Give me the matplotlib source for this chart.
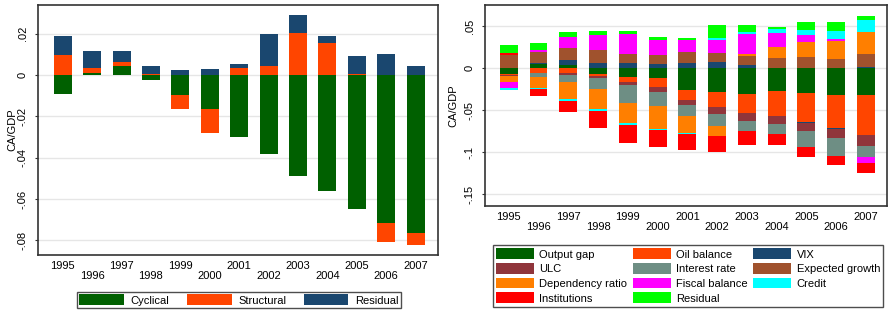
import numpy as np
import matplotlib
matplotlib.use("Agg")
import matplotlib.pyplot as plt
from matplotlib.patches import Patch

plt.rcParams['font.family'] = ['Liberation Sans', 'DejaVu Sans']

years = list(range(1995, 2008))

# Left panel
cyclical = [-0.0093, 0.0011, 0.0046, -0.0024, -0.0098, -0.0166, -0.0300, -0.0384, -0.0487, -0.0560, -0.0647, -0.0714, -0.0764]
structural = [0.0098, 0.0023, 0.0015, 0.0007, -0.0068, -0.0115, 0.0036, 0.0042, 0.0205, 0.0153, 0.0003, -0.0095, -0.0058]
residual_l = [0.0089, 0.0083, 0.0057, 0.0039, 0.0026, 0.0031, 0.0016, 0.0159, 0.0085, 0.0034, 0.0088, 0.0102, 0.0044]

# Right panel
output_gap = [-0.0071, 0.0048, 0.0040, -0.0067, -0.0103, -0.0111, -0.0258, -0.0282, -0.0306, -0.0270, -0.0298, -0.0318, -0.0318]
oil_balance = [-0.0010, -0.0060, -0.0052, -0.0024, -0.0060, -0.0111, -0.0119, -0.0183, -0.0226, -0.0298, -0.0341, -0.0389, -0.0476]
vix = [0.0, 0.0012, 0.0060, 0.0067, 0.0060, 0.0056, 0.0064, 0.0079, 0.0040, 0.0008, -0.0012, -0.0016, 0.0010]
ulc = [-0.0010, 0.0, -0.0028, -0.0020, -0.0036, -0.0060, -0.0060, -0.0079, -0.0095, -0.0095, -0.0095, -0.0107, -0.0131]
interest = [0.0008, -0.0044, -0.0079, -0.0139, -0.0214, -0.0163, -0.0127, -0.0139, -0.0119, -0.0119, -0.0190, -0.0210, -0.0131]
exp_growth = [0.0150, 0.0135, 0.0147, 0.0151, 0.0115, 0.0103, 0.0135, 0.0107, 0.0111, 0.0119, 0.0131, 0.0111, 0.0159]
dependency = [-0.0068, -0.0127, -0.0206, -0.0234, -0.0238, -0.0274, -0.0210, -0.0123, 0.0024, 0.0131, 0.0183, 0.0214, 0.0258]
fiscal = [-0.0071, 0.0020, 0.0127, 0.0179, 0.0238, 0.0183, 0.0139, 0.0151, 0.0238, 0.0167, 0.0083, 0.0024, -0.0071]
credit = [-0.0024, -0.0020, -0.0020, -0.0020, -0.0024, -0.0012, -0.0008, 0.0024, 0.0020, 0.0040, 0.0060, 0.0099, 0.0143]
institutions = [0.0028, -0.0075, -0.0131, -0.0202, -0.0210, -0.0202, -0.0187, -0.0187, -0.0167, -0.0131, -0.0119, -0.0111, -0.0119]
residual_r = [0.0091, 0.0083, 0.0060, 0.0048, 0.0032, 0.0032, 0.0024, 0.0155, 0.0083, 0.0032, 0.0099, 0.0103, 0.0052]

left_series = [("Cyclical", cyclical, "#006000"),
               ("Structural", structural, "#FF4500"),
               ("Residual", residual_l, "#1A476F")]

right_series = [("Output gap", output_gap, "#006000"),
                ("Oil balance", oil_balance, "#FF4500"),
                ("VIX", vix, "#1A476F"),
                ("ULC", ulc, "#90353B"),
                ("Interest rate", interest, "#6E8E84"),
                ("Expected growth", exp_growth, "#A0522D"),
                ("Dependency ratio", dependency, "#FF7F00"),
                ("Fiscal balance", fiscal, "#FF00FF"),
                ("Credit", credit, "#00FFFF"),
                ("Institutions", institutions, "#FF0000"),
                ("Residual", residual_r, "#00FF00")]

W, H = 889, 314
fig = plt.figure(figsize=(W / 100, H / 100), dpi=100)
fig.patch.set_facecolor("white")


def px_axes(l, t, r, b):
    return fig.add_axes([l / W, 1 - b / H, (r - l) / W, (b - t) / H])


def stacked(ax, series, width):
    x = np.arange(len(years))
    pos = np.zeros(len(years))
    neg = np.zeros(len(years))
    for name, vals, col in series:
        v = np.array(vals)
        bottom = np.where(v >= 0, pos, neg)
        ax.bar(x, v, width=width, bottom=bottom, color=col, linewidth=0, zorder=3)
        pos = pos + np.where(v >= 0, v, 0)
        neg = neg + np.where(v < 0, v, 0)


def style(ax, yticks, ylabels, ylim, xlim, label_x):
    ax.set_ylim(*ylim)
    ax.set_xlim(*xlim)
    ax.set_yticks(yticks)
    ax.set_yticklabels(ylabels, rotation=90, va="center", fontsize=8)
    ax.grid(axis="y", color="#E6E6E6", linewidth=1.0, zorder=0)
    ax.set_xticks(np.arange(len(years)))
    labs = [str(y) if i % 2 == 0 else "\n" + str(y) for i, y in enumerate(years)]
    ax.set_xticklabels(labs, fontsize=8, linespacing=1.05)
    ax.tick_params(axis="x", length=0, pad=4)
    ax.tick_params(axis="y", length=2.5, pad=5, color="#333333")
    for s in ax.spines.values():
        s.set_color("#333333")
        s.set_linewidth(1.2)
    ax.set_ylabel("CA/GDP", fontsize=8)
    ax.yaxis.set_label_coords(label_x, 0.5)


axL = px_axes(38, 5, 438, 255)
stacked(axL, left_series, 0.61)
style(axL, [0.02, 0, -0.02, -0.04, -0.06, -0.08],
      [".02", "0", "-.02", "-.04", "-.06", "-.08"],
      (-0.0871, 0.0339), (-0.84, 12.76), (17 - 38) / 400)

axR = px_axes(485, 5, 887, 206)
stacked(axR, right_series, 0.6)
style(axR, [0.05, 0, -0.05, -0.1, -0.15],
      [".05", "0", "-.05", "-.1", "-.15"],
      (-0.1639, 0.0754), (-0.8, 12.71), (458 - 485) / 402)

# legends
hl = [Patch(facecolor=c, edgecolor="none", label=n) for n, _, c in left_series]
legL = fig.legend(handles=hl, loc="center", bbox_to_anchor=(239 / W, 1 - 300 / H),
                  ncol=3, fontsize=8, frameon=True, fancybox=False,
                  handlelength=4.0, handleheight=1.1, handletextpad=0.6,
                  columnspacing=1.6, borderpad=0.25, borderaxespad=0)
legL.get_frame().set_edgecolor("#222222")
legL.get_frame().set_linewidth(1.0)

order = [0, 3, 6, 9, 1, 4, 7, 10, 2, 5, 8]
hr = [Patch(facecolor=right_series[i][2], edgecolor="none", label=right_series[i][0]) for i in order]
legR = fig.legend(handles=hr, loc="center", bbox_to_anchor=(688 / W, 1 - 276 / H),
                  ncol=3, fontsize=8, frameon=True, fancybox=False,
                  handlelength=3.4, handleheight=1.1, handletextpad=0.5,
                  columnspacing=0.5, labelspacing=0.32, borderpad=0.3, borderaxespad=0)
legR.get_frame().set_edgecolor("#222222")
legR.get_frame().set_linewidth(1.0)

fig.savefig("out.png", dpi=100, facecolor="white")
